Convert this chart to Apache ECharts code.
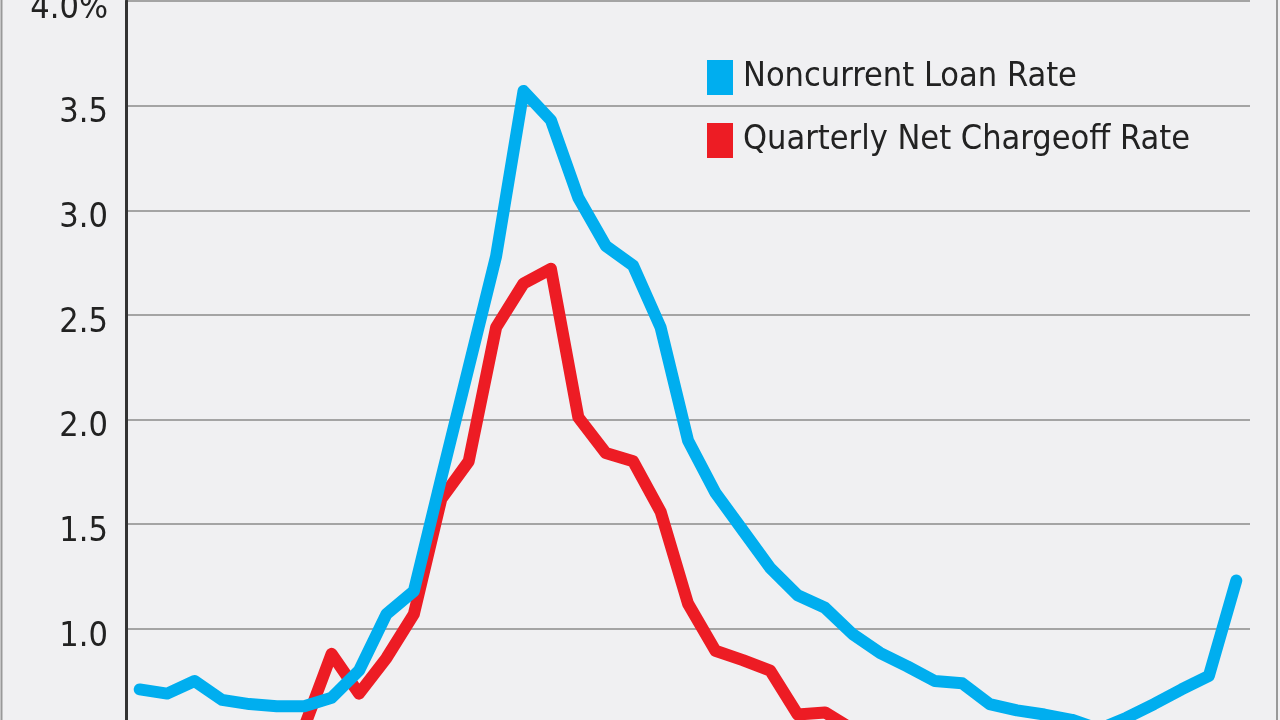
<!DOCTYPE html>
<html>
<head>
<meta charset="utf-8">
<script src="https://cdn.jsdelivr.net/npm/echarts@6/dist/echarts.min.js"></script>
<style>
html,body{margin:0;padding:0;background:#f0f0f2;}
#chart{width:1280px;height:720px;}
</style>
</head>
<body>
<div id="chart"></div>
<script>
// Quarter index (x-axis labels are not shown in the reference)
const categories = ['1','2','3','4','5','6','7','8','9','10','11','12','13','14','15','16','17','18','19','20','21','22','23','24','25','26','27','28','29','30','31','32','33','34','35','36','37','38','39','40','41'];

const noncurrentLoanRate = [0.71,0.69,0.75,0.66,0.64,0.63,0.63,0.67,0.80,1.07,1.18,1.72,2.25,2.78,3.57,3.43,3.06,2.83,2.735,2.44,1.90,1.65,1.47,1.29,1.16,1.10,0.975,0.885,0.82,0.75,0.74,0.64,0.61,0.59,0.565,0.52,0.575,0.64,0.71,0.775,1.23];

const netChargeoffRate = [0.40,0.38,0.42,0.36,0.35,0.37,0.53,0.88,0.69,0.86,1.07,1.62,1.80,2.44,2.65,2.72,2.01,1.84,1.80,1.56,1.12,0.895,0.85,0.80,0.59,0.60,0.52,0.48,0.45,0.44,0.40,0.38,0.36,0.35,0.33,0.32,0.30,0.29,0.28,0.30,0.45];

const seriesNames = ['Noncurrent Loan Rate','Quarterly Net Chargeoff Rate'];
const yTicks = {min:0, max:4, interval:0.5};

const FONT = '"Liberation Sans Narrow","DejaVu Sans Condensed","Liberation Sans",sans-serif';
const chart = echarts.init(document.getElementById('chart'), null, {renderer:'canvas'});
chart.setOption({
  backgroundColor:'#f0f0f2',
  animation:false,
  grid:{left:126, right:30, top:1, height:837, containLabel:false, outerBoundsMode:'none'},
  legend:{
    orient:'vertical', left:702, top:55,
    icon:'rect', itemWidth:26, itemHeight:35, itemGap:28,
    data:[seriesNames[0], seriesNames[1]],
    selectedMode:false,
    textStyle:{fontFamily:FONT, fontSize:34, color:'#222', padding:[0,0,0,5]}
  },
  xAxis:{
    type:'category', data:categories, boundaryGap:true,
    axisLine:{show:false}, axisTick:{show:false}, axisLabel:{show:false}, splitLine:{show:false}
  },
  yAxis:{
    type:'value', min:yTicks.min, max:yTicks.max, interval:yTicks.interval,
    axisLine:{show:true, lineStyle:{color:'#333', width:3}},
    axisTick:{show:false},
    splitLine:{show:true, lineStyle:{color:'#a4a4a4', width:2}},
    axisLabel:{
      margin:18,
      formatter:function(v){ return '{t|' + (v === 4 ? '4.0%' : v.toFixed(1)) + '}'; },
      rich:{ t:{fontFamily:FONT, fontSize:34, color:'#222', padding:[16,0,0,0]} }
    }
  },
  series:[
    {name:seriesNames[1], type:'line', data:netChargeoffRate, symbol:'none', z:2,
     color:'#ed1c24', lineStyle:{width:12, color:'#ed1c24', cap:'round', join:'round'}},
    {name:seriesNames[0], type:'line', data:noncurrentLoanRate, symbol:'none', z:3,
     color:'#00aeef', lineStyle:{width:12, color:'#00aeef', cap:'round', join:'round'}}
  ],
  graphic:[
    {type:'line', shape:{x1:1.5, y1:0, x2:1.5, y2:720}, style:{stroke:'#999', lineWidth:2}, silent:true},
    {type:'line', shape:{x1:1277, y1:0, x2:1277, y2:720}, style:{stroke:'#999', lineWidth:2}, silent:true}
  ]
});
</script>
</body>
</html>
